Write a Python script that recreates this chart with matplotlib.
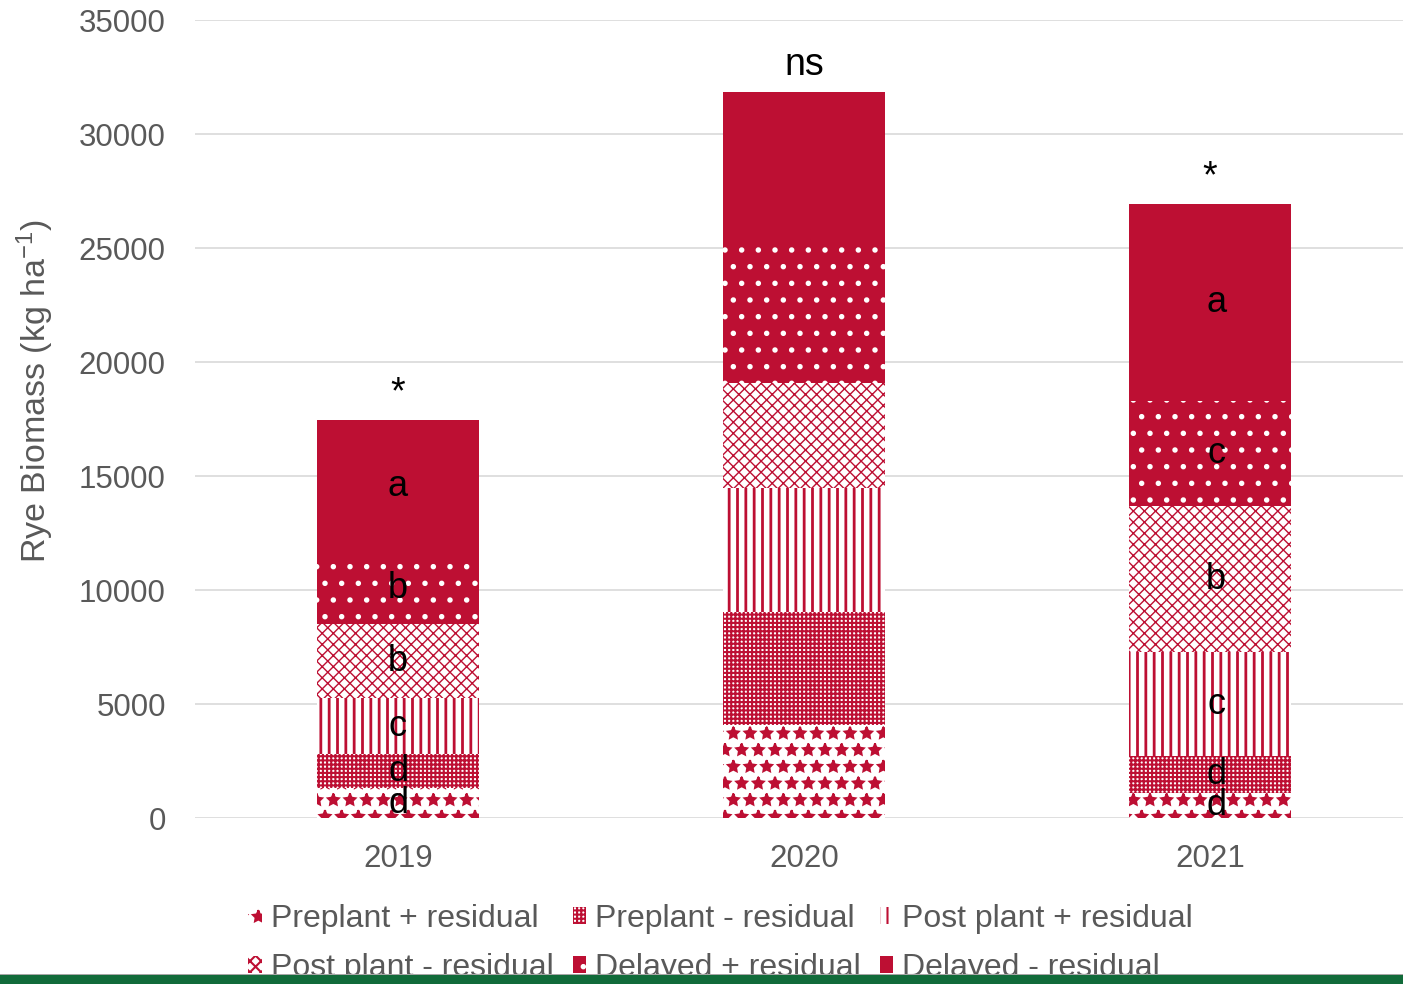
import matplotlib
matplotlib.use("Agg")

import numpy as np
import matplotlib.pyplot as plt
from matplotlib.patches import Rectangle

plt.rcParams["font.family"] = ["Liberation Sans", "DejaVu Sans"]
plt.rcParams["mathtext.default"] = "regular"
plt.rcParams["hatch.linewidth"] = 1.5

CRIMSON = "#BD0F33"
GRAY = "#595959"
GRID = "#D9D9D9"

years = ["2019", "2020", "2021"]

seria = [
    "Preplant + residual", "Preplant - residual", "Post plant + residual",
    "Post plant - residual", "Delayed + residual", "Delayed - residual"
]

# wartosci (kg/ha), kolejno 2019, 2020, 2021
preplant_plus = [1300, 4100, 1100]
preplant_minus = [1500, 4940, 1620]
post_plus = [2460, 5440, 4560]
post_minus = [3250, 4600, 6400]
delayed_plus = [3110, 6330, 4600]
delayed_minus = [5830, 6430, 8640]

# litery istotnosci od dolu do gory
litery_2019 = ["d", "d", "c", "b", "b", "a"]
litery_2020 = ["", "", "", "", "", ""]
litery_2021 = ["d", "d", "c", "b", "c", "a"]
istotnosc = ["*", "ns", "*"]

wartosci = [preplant_plus, preplant_minus, post_plus, post_minus, delayed_plus, delayed_minus]
litery = [litery_2019, litery_2020, litery_2021]

# (wypelnienie, kolor kreskowania, wzor, grubosc kreskowania)
style = [
    ("white", CRIMSON, "*", 1.5),
    ("white", CRIMSON, "++++", 1.5),
    ("white", CRIMSON, "||", 2.0),
    ("white", CRIMSON, "xxx", 1.0),
    (CRIMSON, "white", ".", 1.5),
    (CRIMSON, CRIMSON, None, 1.5),
]

fig = plt.figure(figsize=(14.03, 9.84), dpi=100)
ax = fig.add_axes([195 / 1403, 166 / 984, 1218 / 1403, 798 / 984])

x = np.arange(len(years))
bottom = np.zeros(len(years))
dx = [0, 0, 0.015]

for i, (nazwa, vals, (fc, ec, h, hlw)) in enumerate(zip(seria, wartosci, style)):
    vals = np.array(vals, dtype=float)
    plt.rcParams["hatch.linewidth"] = hlw
    bc = ax.bar(x, vals, 0.4, bottom=bottom, facecolor=fc, edgecolor=ec,
                hatch=h, linewidth=0, label=nazwa, zorder=2)
    for p in bc.patches:
        if hasattr(p, "set_hatch_linewidth"):
            p.set_hatch_linewidth(hlw)
    for j in range(len(years)):
        lit = litery[j][i]
        if lit:
            ax.text(x[j] + dx[j], bottom[j] + vals[j] / 2, lit,
                    ha="center", va="center", fontsize=26, color="black", zorder=5)
    bottom += vals

plt.rcParams["hatch.linewidth"] = 1.5

for j in range(len(years)):
    ax.text(x[j], bottom[j] + 400, istotnosc[j], ha="center", va="bottom",
            fontsize=27, color="black")

ax.set_xlim(-0.5, 2.5)
ax.set_ylim(0, 35000)
ax.set_yticks(np.arange(0, 35001, 5000))
ax.set_xticks(x)
ax.set_xticklabels(years)
ax.set_axisbelow(True)
ax.grid(axis="y", color=GRID, linewidth=1.2)
for s in ax.spines.values():
    s.set_visible(False)
ax.tick_params(axis="both", length=0, labelsize=22.5, labelcolor=GRAY)
ax.tick_params(axis="x", pad=19)
ax.tick_params(axis="y", pad=21)

ax.set_ylabel(r"Rye Biomass (kg ha$^{-1}$)", fontsize=24.5, color=GRAY)
ax.yaxis.set_label_coords(-0.114, 0.535)

h, l = ax.get_legend_handles_labels()
order = [0, 3, 1, 4, 2, 5]
leg = ax.legend([h[k] for k in order], [l[k] for k in order], ncol=3,
                loc="upper left", bbox_to_anchor=(0.168, 0.0945),
                bbox_transform=fig.transFigure, frameon=False, fontsize=23,
                handlelength=0.42, handleheight=0.42, handletextpad=0.28,
                columnspacing=0.6, labelspacing=0.6, borderaxespad=0)
for t in leg.get_texts():
    t.set_color(GRAY)

# zielony pasek na dole
fig.add_artist(Rectangle((0, 0), 1, 9 / 984, transform=fig.transFigure,
                         facecolor="#116B3A", edgecolor="none", zorder=10))
fig.add_artist(Rectangle((0, 9 / 984), 1, 1.5 / 984, transform=fig.transFigure,
                         facecolor="#A6A6A6", edgecolor="none", zorder=10))

fig.savefig("out.png", dpi=100)
